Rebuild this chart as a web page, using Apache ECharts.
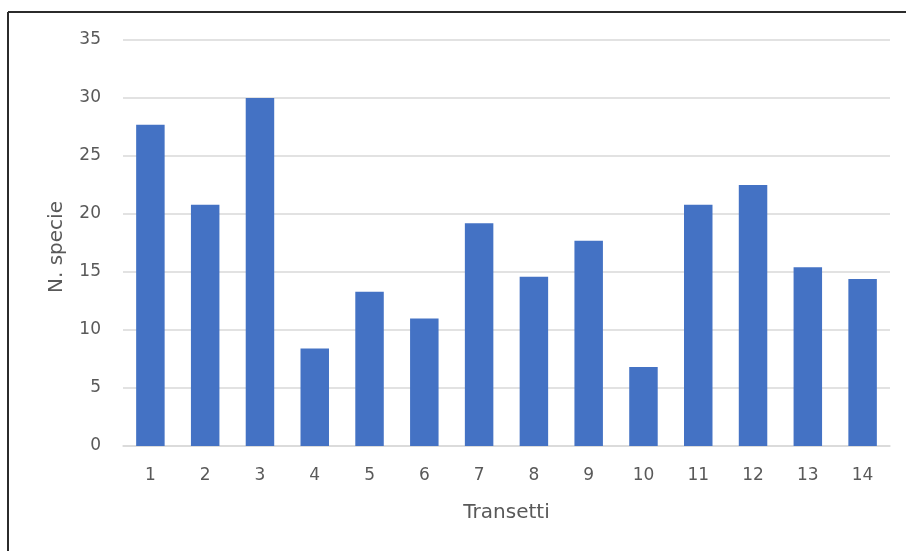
<!DOCTYPE html>
<html>
<head>
<meta charset="utf-8">
<script src="https://cdn.jsdelivr.net/npm/echarts@6/dist/echarts.min.js"></script>
<style>
  html, body { margin: 0; padding: 0; background: #fff; }
  #chart { width: 906px; height: 551px; }
</style>
</head>
<body>
<div id="chart"></div>
<script>
// Transect numbers and species count per transect
const transetti = ['1', '2', '3', '4', '5', '6', '7', '8', '9', '10', '11', '12', '13', '14'];
const nSpecie = [27.7, 20.8, 30.0, 8.4, 13.3, 11.0, 19.2, 14.6, 17.7, 6.8, 20.8, 22.5, 15.4, 14.4];
const yTicks = { min: 0, max: 35, step: 5 };

const textColor = '#595959';
const fontFamily = '"DejaVu Sans", "Noto Sans", sans-serif';
const fontSize = 17;
const nameFontSize = 20;

const chart = echarts.init(document.getElementById('chart'), null, { renderer: 'canvas' });
chart.setOption({
  animation: false,
  backgroundColor: '#fff',
  grid: { left: 123, right: 16, top: 40, bottom: 105, containLabel: false },
  xAxis: {
    type: 'category',
    data: transetti,
    name: 'Transetti',
    nameLocation: 'middle',
    nameGap: 57,
    nameTextStyle: { color: textColor, fontSize: nameFontSize, fontFamily },
    axisLine: { show: true, lineStyle: { color: '#d9d9d9', width: 1.5 } },
    axisTick: { show: false },
    axisLabel: { color: textColor, fontSize, fontFamily, margin: 21 }
  },
  yAxis: {
    type: 'value',
    min: yTicks.min,
    max: yTicks.max,
    interval: yTicks.step,
    name: 'N. specie',
    nameLocation: 'middle',
    nameGap: 56,
    nameRotate: 90,
    nameTextStyle: { color: textColor, fontSize: nameFontSize, fontFamily, padding: [0, 8, 0, 0] },
    axisLine: { show: false },
    axisTick: { show: false },
    axisLabel: { color: textColor, fontSize, fontFamily, margin: 22, padding: [6, 0, 0, 0] },
    splitLine: { lineStyle: { color: '#d9d9d9', width: 1.5 } }
  },
  series: [{
    type: 'bar',
    data: nSpecie,
    barCategoryGap: '48%',
    itemStyle: { color: '#4472c4' }
  }],
  graphic: [
    { type: 'line', shape: { x1: 8, y1: 12, x2: 906, y2: 12 }, style: { stroke: '#2b2b2b', lineWidth: 2 } },
    { type: 'line', shape: { x1: 8, y1: 12, x2: 8, y2: 551 }, style: { stroke: '#2b2b2b', lineWidth: 2 } }
  ]
});
</script>
</body>
</html>
